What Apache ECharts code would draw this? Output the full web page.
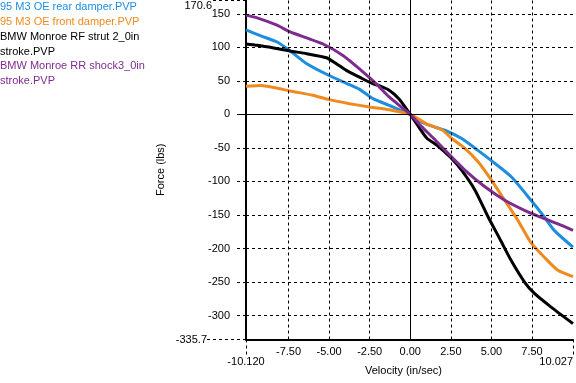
<!DOCTYPE html>
<html><head><meta charset="utf-8">
<script src="https://cdn.jsdelivr.net/npm/echarts@6/dist/echarts.min.js"></script>
<style>html,body{margin:0;padding:0;background:#fff}#c{width:576px;height:383px}</style>
</head><body><div id="c"></div>
<script>
// ---- data ----
const seriesNames = ['95 M3 OE rear damper.PVP', '95 M3 OE front damper.PVP', 'BMW Monroe RF strut 2_0in stroke.PVP', 'BMW Monroe RR shock3_0in stroke.PVP'];
const legendLines = [['95 M3 OE rear damper.PVP'], ['95 M3 OE front damper.PVP'], ['BMW Monroe RF strut 2_0in', 'stroke.PVP'], ['BMW Monroe RR shock3_0in', 'stroke.PVP']];
const seriesColors = ['#1d8de0', '#f08a1c', '#000000', '#7f2b8e'];

const rearDamper = [[-10.12,126],[-9.2,117],[-8.2,108],[-7.5,96.5],[-6.4,76],[-5.0,58],[-3.9,46],[-3.1,37],[-2.3,23.5],[-1.3,13.5],[0,0],[0.5,-9],[1.14,-16],[2.16,-24],[3.17,-36],[4.19,-54],[5.0,-69],[6.22,-93],[7.44,-128],[8.26,-153],[8.87,-173],[10.027,-198]];
const frontDamper = [[-10.12,42],[-9.2,43],[-8.4,40],[-7.4,35],[-6.0,28.5],[-5.0,22],[-3.74,16],[-2.5,11],[-1.3,7],[0,0],[1.0,-14],[1.95,-23],[2.56,-36],[3.38,-51],[4.19,-71],[5.0,-98],[5.82,-128],[6.63,-158],[7.4,-190],[8.26,-213],[9.07,-232],[10.027,-242]];
const rfStrut = [[-10.12,105],[-9.43,103],[-8.41,99],[-7.4,94.5],[-6.38,90.5],[-5.16,84.5],[-4.55,75.6],[-3.94,65.6],[-3.13,55.6],[-2.32,45.8],[-1.91,43],[-1.3,36],[-0.69,23],[0,0],[0.53,-19],[1.04,-36],[1.65,-46],[2.46,-63.6],[3.17,-83.5],[3.99,-113],[4.8,-153],[5.57,-188],[6.22,-218],[7.04,-250],[7.65,-267],[8.66,-287],[10.027,-312]];
const rrShock = [[-10.12,148],[-9.43,144],[-8.21,133],[-7.4,123],[-6.38,114],[-5.37,105],[-4.15,88],[-3.13,68],[-2.11,46],[-1.3,26],[0,0],[0.73,-19],[1.45,-36],[2.16,-54],[3.38,-83.5],[4.6,-108],[5.82,-128],[7.04,-143],[8.26,-155.5],[9.07,-163],[10.027,-173]];
const allSeries = [rearDamper, frontDamper, rfStrut, rrShock];

const xMin = -10.12, xMax = 10.027;
const yMin = -335.7, yMax = 170.6;
const xTicks = [-7.5, -5, -2.5, 0, 2.5, 5, 7.5];
const yTicks = [-300, -250, -200, -150, -100, -50, 0, 50, 100, 150];
const xAxisTitle = 'Velocity (in/sec)';
const yAxisTitle = 'Force (lbs)';

// ---- chart ----
const FONT = 'Liberation Sans';
const txt = {color: '#000', fontFamily: FONT, fontSize: 11};
const dash = {color: '#000', width: 1, type: [3, 3]};

function xAx(extra) {
  return Object.assign({type: 'value', min: xMin, max: xMax, position: 'bottom', splitLine: {show: false}, axisLine: {show: false, onZero: false}}, extra);
}
function yAx(extra) {
  return Object.assign({type: 'value', min: yMin, max: yMax, position: 'left', splitLine: {show: false}, axisLine: {show: false, onZero: false}}, extra);
}

const gridDashed = [];
xTicks.filter(v => v !== 0).forEach(v => gridDashed.push({xAxis: v}));
yTicks.filter(v => v !== 0).forEach(v => gridDashed.push({yAxis: v}));

const legendGraphics = [];
const legendTops = [0, 14.75, 29.75, 58.75];
legendLines.forEach((lines, i) => {
  legendGraphics.push({type: 'text', left: 0, top: legendTops[i], silent: true,
    style: {text: lines.join('\n'), fill: seriesColors[i], font: '11px "' + FONT + '"', lineHeight: 14.5}});
});

const option = {
  animation: false,
  backgroundColor: '#fff',
  grid: {left: 246, right: 0, top: 0, bottom: 43.5, containLabel: false},
  graphic: legendGraphics,
  xAxis: [
    xAx({axisLine: {show: true, onZero: false, lineStyle: {color: '#000', width: 2}},
      axisTick: {show: false},
      axisLabel: Object.assign({customValues: xTicks, formatter: v => v.toFixed(2), margin: 7}, txt),
      name: xAxisTitle, nameLocation: 'middle', nameGap: 26,
      nameTextStyle: Object.assign({padding: [0, 12, 0, 0]}, txt)}),
    xAx({axisTick: {show: true, customValues: [xMin, xMax], length: 15, lineStyle: dash},
      axisLabel: Object.assign({customValues: [xMin, xMax], formatter: v => v.toFixed(3), margin: 17, alignMaxLabel: 'right'}, txt)})
  ],
  yAxis: [
    yAx({axisLine: {show: true, onZero: false, lineStyle: {color: '#000', width: 2}},
      axisTick: {show: true, customValues: yTicks.filter(v => v !== 0), length: 9, lineStyle: dash},
      axisLabel: Object.assign({customValues: yTicks, formatter: v => String(v), margin: 16}, txt),
      name: yAxisTitle, nameLocation: 'middle', nameGap: 80, nameTextStyle: txt}),
    yAx({axisTick: {show: true, customValues: [yMax], length: 33, lineStyle: dash},
      axisLabel: Object.assign({customValues: [yMax], formatter: v => v.toFixed(1), margin: 34, verticalAlign: 'top'}, txt)}),
    yAx({axisTick: {show: true, customValues: [yMin], length: 39, lineStyle: dash},
      axisLabel: Object.assign({customValues: [yMin], formatter: v => v.toFixed(1), margin: 39}, txt)}),
    yAx({axisTick: {show: true, customValues: [0], length: 9, lineStyle: {color: '#000', width: 1}},
      axisLabel: {show: false}})
  ],
  series: [
    {type: 'line', data: [], z: 1, silent: true,
      markLine: {silent: true, animation: false, symbol: ['none', 'none'], label: {show: false}, lineStyle: dash, data: gridDashed}},
    {type: 'line', data: [], z: 1, silent: true,
      markLine: {silent: true, animation: false, symbol: ['none', 'none'], label: {show: false}, lineStyle: {color: '#000', width: 1, type: 'solid'}, data: [{xAxis: 0}, {yAxis: 0}]}}
  ].concat(allSeries.map((d, i) => ({
    type: 'line', name: seriesNames[i], data: d, z: 3, showSymbol: false, smooth: 0.2,
    lineStyle: {color: seriesColors[i], width: 3}, itemStyle: {color: seriesColors[i]}
  })))
};

const chart = echarts.init(document.getElementById('c'), null, {renderer: 'canvas'});
chart.setOption(option);
</script>
</body></html>
